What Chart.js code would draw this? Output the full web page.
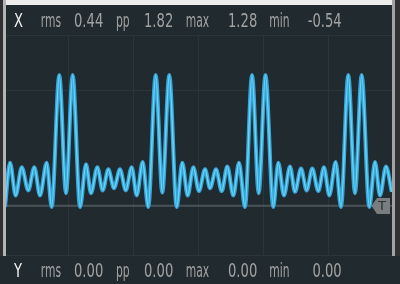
<!DOCTYPE html>
<html>
<head>
<meta charset="utf-8">
<script src="https://cdn.jsdelivr.net/npm/chart.js@4/dist/chart.umd.min.js"></script>
<style>
html, body { margin: 0; padding: 0; background: #212a2e; }
canvas { display: block; }
</style>
</head>
<body>
<canvas id="scope" width="400" height="284"></canvas>
<script>
// trace X: time in divisions, value in volts (turning points)
const timeDiv = [0.031, 0.108, 0.195, 0.288, 0.389, 0.482, 0.569, 0.672, 0.749, 0.866,
    0.969, 1.072, 1.185, 1.277, 1.354, 1.451, 1.534, 1.620, 1.708, 1.800,
    1.888, 1.980, 2.057, 2.149, 2.235, 2.349, 2.451, 2.558, 2.672, 2.758,
    2.842, 2.928, 3.015, 3.108, 3.185, 3.277, 3.365, 3.451, 3.543, 3.631,
    3.723, 3.831, 3.934, 4.038, 4.158, 4.235, 4.323, 4.415, 4.492, 4.585,
    4.672, 4.758, 4.851, 4.938, 5.020, 5.118, 5.200, 5.312, 5.415, 5.518,
    5.635, 5.723, 5.800, 5.892, 5.980];
const traceX = [-0.54, 0.07, -0.38, 0.01, -0.31, 0.01, -0.38, 0.07, -0.54, 1.28,
    -0.35, 1.28, -0.54, 0.05, -0.35, 0.01, -0.31, -0.02, -0.28, -0.02,
    -0.31, 0.01, -0.38, 0.08, -0.54, 1.28, -0.34, 1.28, -0.54, 0.07,
    -0.38, 0.01, -0.32, -0.02, -0.28, -0.02, -0.32, 0.02, -0.38, 0.07,
    -0.54, 1.28, -0.35, 1.28, -0.54, 0.07, -0.38, 0.02, -0.33, -0.01,
    -0.31, -0.01, -0.32, 0.01, -0.38, 0.08, -0.54, 1.28, -0.35, 1.28,
    -0.54, 0.08, -0.38, 0.02, -0.33];
const triggerLevel = -0.52;

const statNames = ['rms', 'pp', 'max', 'min'];
const statsX = [0.44, 1.82, 1.28, -0.54];
const statsY = [0.00, 0.00, 0.00, 0.00];

const gridTimes = [0, 1, 2, 3, 4, 5, 6];
const gridVolts = [-1.2, 1.07, 1.83];

const points = timeDiv.map((t, i) => ({ x: t, y: traceX[i] }));
const trigLine = [{ x: 0, y: triggerLevel }, { x: 6, y: triggerLevel }];

const FONT = '"DejaVu Sans", "Noto Sans", sans-serif';
const labelX = [40.7, 116, 185.7, 269.3];
const valueRight = [103.3, 173.3, 257.3, 341.7];

function drawSqueezed(ctx, text, x, y, sx, align) {
    ctx.save();
    ctx.translate(x, y);
    ctx.scale(sx, 1);
    ctx.textAlign = align;
    ctx.fillText(text, 0, 0);
    ctx.restore();
}

function drawStatsRow(ctx, name, stats, baseY) {
    ctx.font = '19px ' + FONT;
    ctx.textBaseline = 'alphabetic';
    const sxNum = 29.3 / ctx.measureText('0.00').width;
    const sxLab = 20.3 / ctx.measureText('rms').width;
    ctx.fillStyle = '#f2f2f2';
    drawSqueezed(ctx, name, 14, baseY, sxNum, 'left');
    ctx.fillStyle = '#a2a2a2';
    statNames.forEach((s, i) => {
        drawSqueezed(ctx, s, labelX[i], baseY, sxLab, 'left');
        drawSqueezed(ctx, stats[i].toFixed(2), valueRight[i], baseY, sxNum, 'right');
    });
}

const scopeFrame = {
    id: 'scopeFrame',
    beforeDraw(chart) {
        const ctx = chart.ctx;
        ctx.save();
        ctx.fillStyle = '#212a2e';
        ctx.fillRect(0, 0, chart.width, chart.height);
        ctx.fillStyle = '#ececec';
        ctx.fillRect(6, 0, 386, 5);
        ctx.restore();
    },
    afterDatasetsDraw(chart) {
        const ctx = chart.ctx;
        const yPix = chart.scales.y.getPixelForValue(triggerLevel);
        ctx.save();
        // side rails
        ctx.fillStyle = '#2f3132';
        ctx.fillRect(0, 0, 3, 256);
        ctx.fillRect(395, 0, 5, 256);
        ctx.fillStyle = '#b4b4b4';
        ctx.fillRect(3, 0, 3, 256);
        ctx.fillStyle = '#a3a3a3';
        ctx.fillRect(392, 0, 3, 256);
        // trigger marker
        ctx.fillStyle = '#7a7d7f';
        ctx.beginPath();
        ctx.moveTo(371.5, yPix);
        ctx.lineTo(377, yPix - 7.7);
        ctx.lineTo(390, yPix - 7.7);
        ctx.lineTo(390, yPix + 8.3);
        ctx.lineTo(377, yPix + 8.3);
        ctx.closePath();
        ctx.fill();
        ctx.fillStyle = '#2a2f31';
        ctx.font = '13px ' + FONT;
        ctx.textAlign = 'center';
        ctx.textBaseline = 'middle';
        ctx.fillText('T', 382, yPix + 0.5);
        ctx.restore();
    },
    afterDraw(chart) {
        const ctx = chart.ctx;
        ctx.save();
        drawStatsRow(ctx, 'X', statsX, 26.6);
        drawStatsRow(ctx, 'Y', statsY, 276.6);
        ctx.restore();
    }
};

new Chart(document.getElementById('scope').getContext('2d'), {
    type: 'line',
    data: {
        datasets: [{
            data: points,
            borderColor: 'rgba(120, 232, 255, 0.75)',
            borderWidth: 1.4,
            pointRadius: 0,
            cubicInterpolationMode: 'monotone',
            borderJoinStyle: 'round'
        }, {
            data: points,
            borderColor: '#37a5da',
            borderWidth: 4,
            pointRadius: 0,
            cubicInterpolationMode: 'monotone',
            borderJoinStyle: 'round'
        }, {
            data: trigLine,
            borderColor: '#4a5357',
            borderWidth: 2,
            pointRadius: 0
        }]
    },
    options: {
        responsive: false,
        animation: false,
        layout: {
            padding: { left: 3, right: 7, top: 35, bottom: 29 }
        },
        plugins: {
            legend: { display: false },
            tooltip: { enabled: false }
        },
        scales: {
            x: {
                type: 'linear',
                min: 0,
                max: 6,
                afterBuildTicks: (axis) => { axis.ticks = gridTimes.map(v => ({ value: v })); },
                ticks: { display: false },
                border: { display: false },
                grid: { color: '#2c3539', drawTicks: false }
            },
            y: {
                min: -1.2,
                max: 1.83,
                afterBuildTicks: (axis) => { axis.ticks = gridVolts.map(v => ({ value: v })); },
                ticks: { display: false },
                border: { display: false },
                grid: { color: '#2c3539', drawTicks: false }
            }
        }
    },
    plugins: [scopeFrame]
});
</script>
</body>
</html>
